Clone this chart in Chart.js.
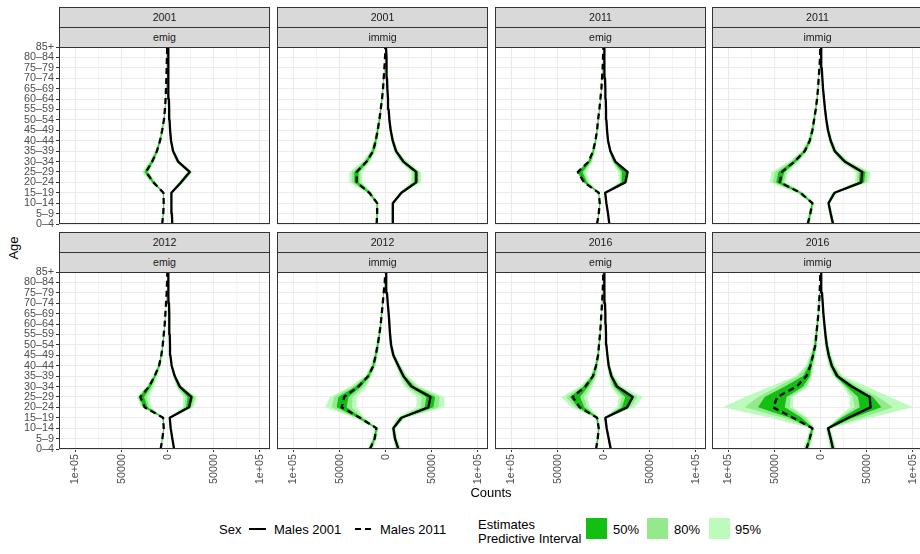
<!DOCTYPE html>
<html>
<head>
<meta charset="utf-8">
<script src="https://cdn.jsdelivr.net/npm/chart.js@4.4.1/dist/chart.umd.min.js"></script>
<style>
  html, body { margin: 0; padding: 0; background: #ffffff; }
  body { position: relative; width: 920px; height: 554px; overflow: hidden;
         font-family: "Liberation Sans", Arial, Helvetica, sans-serif; }
  canvas { position: absolute; }
  .strip { position: absolute; box-sizing: border-box; height: 21px; background: #d9d9d9;
           border: 1px solid #333333; color: #1a1a1a; font-size: 10.6px; line-height: 19px;
           text-align: center; white-space: nowrap; overflow: hidden; }
  .txt { position: absolute; white-space: nowrap; color: #000000; font-size: 13px; line-height: 15px; }
  .key { position: absolute; }
</style>
</head>
<body>
<div id="figure"></div>
<script>
// ---- categories and tick labels ----
const ages = ['0–4','5–9','10–14','15–19','20–24','25–29','30–34','35–39','40–44',
              '45–49','50–54','55–59','60–64','65–69','70–74','75–79','80–84','85+'];
const panelYear = ['2001','2001','2011','2011','2012','2012','2016','2016'];
const panelFlow = ['emig','immig','emig','immig','emig','immig','emig','immig'];
const xTickValues = [-100000, -75000, -50000, -25000, 0, 25000, 50000, 75000, 100000];
const xTickLabels = ['1e+05', '', '50000', '', '0', '', '50000', '', '1e+05'];

// ---- Males 2001 counts by age (drawn to the right of zero), one row per panel ----
const males2001 = [
  [5000,4500,4000,4000,14500,23800,11200,5800,3600,2600,2000,1600,1300,1000,800,600,500,400],
  [7800,7600,7800,17000,33000,33000,19100,11200,7600,5400,4000,3200,2500,1800,1400,1100,700,300],
  [6100,4700,2900,1600,23500,25800,12600,7200,4700,3600,2900,2500,2200,1800,1400,1100,700,400],
  [13400,10800,8500,15000,44000,45000,26000,15200,10800,7900,6100,4700,3600,2500,1800,1100,700,400],
  [6900,5000,3200,2200,23100,25600,13000,7600,4300,2900,2500,2200,1800,1600,1400,1100,700,400],
  [13700,10100,8300,17000,46200,48500,28000,19100,13700,8300,5800,4700,4000,3200,2200,1400,700,400],
  [7600,5400,3200,1800,25300,31400,14400,8300,5400,4000,2900,2500,2200,1800,1400,1100,700,400],
  [13400,10800,8000,30000,54000,53100,33500,18000,12000,8700,6500,5100,4000,2900,2200,1400,700,400]
];
// ---- Males 2011 counts by age (drawn to the left of zero) ----
const males2011 = [
  [6000,4800,4300,4700,15500,23500,16800,11700,8300,6000,4100,3000,2300,1800,1400,1100,800,500],
  [9800,9300,9300,17700,31400,31400,20600,13700,10800,8700,6900,5400,4000,2900,2200,1400,700,400],
  [7200,5400,4300,5400,21300,28000,16200,11600,9000,7200,6100,4700,3600,2500,1800,1100,700,400],
  [14000,11300,9000,22000,44400,41900,28200,17300,11900,9000,7200,5400,4000,2900,2200,1400,700,400],
  [7600,5800,4300,5000,24900,29600,20200,14100,9400,6900,5400,4300,3200,2500,1800,1100,700,400],
  [17000,12000,10000,28000,47700,45000,29600,18800,13400,10800,8700,6900,5400,4300,3200,2200,1100,300],
  [8300,6500,5400,7200,26000,33600,19900,11600,8300,6100,5100,4000,3200,2500,1800,1100,700,400],
  [15500,11900,9000,30000,51500,47000,26000,15500,11200,8300,5800,4700,3600,2500,1800,1100,700,400]
];

// ---- predictive intervals: reach beyond the line (outer, away from zero) and
//      towards zero (inner), in counts, for the 2001 side ----
const pi95Outer2001 = [
  [900,800,800,1000,2800,3500,2500,1500,1000,800,700,600,500,400,400,300,300,300],
  [1500,1400,1400,2500,5500,5500,4000,2500,1800,1400,1100,900,700,600,500,400,300,300],
  [800,700,600,800,2500,2500,1500,1000,800,600,500,500,400,400,300,300,300,300],
  [2000,1800,1600,3000,8000,9000,5000,3000,2200,1800,1500,1200,1000,800,600,500,400,300],
  [1000,800,700,900,5000,6000,3000,1500,1000,800,600,500,500,400,400,300,300,300],
  [3000,2500,2200,5000,17000,15000,9000,4500,3000,2200,1800,1500,1200,1000,800,600,400,300],
  [1500,1200,1000,1500,8000,11000,6000,3000,1800,1300,1000,800,700,600,500,400,300,300],
  [3500,3000,2500,23500,46000,22000,16300,6200,4000,3000,2200,1800,1400,1100,800,600,400,300]
];
const pi95Inner2001 = [
  [900,800,800,1000,2800,3000,2500,1500,1000,800,700,600,500,400,400,300,300,300],
  [1500,1400,1400,2500,6000,6000,4000,2500,1800,1400,1100,900,700,600,500,400,300,300],
  [800,700,600,800,7000,10000,4000,1500,1000,800,600,500,400,400,300,300,300,300],
  [2000,1800,1600,3000,7000,7000,4500,3000,2200,1800,1500,1200,1000,800,600,500,400,300],
  [1000,800,700,900,7000,9000,4000,1800,1000,800,600,500,500,400,400,300,300,300],
  [3000,2500,2200,5000,13000,15000,8000,4000,3000,2200,1800,1500,1200,1000,800,600,400,300],
  [1500,1200,1000,1500,11000,15000,7000,3000,1800,1300,1000,800,700,600,500,400,300,300],
  [3500,3000,2500,11200,22600,21700,9300,4600,3500,2800,2200,1800,1400,1100,800,600,400,300]
];
const pi80Outer2001 = [
  [600,500,500,700,1800,2300,1600,1000,700,500,500,400,300,300,300,200,200,200],
  [1000,900,900,1600,3500,3500,2600,1600,1200,900,700,600,500,400,300,300,200,200],
  [500,400,400,500,1500,1500,1000,700,500,400,300,300,300,300,200,200,200,200],
  [1300,1200,1000,2000,5500,6000,3300,2000,1500,1200,1000,800,600,500,400,300,300,200],
  [600,500,500,600,3200,4000,2000,1000,700,500,400,300,300,300,300,200,200,200],
  [2000,1600,1400,3300,11000,10000,6000,3000,2000,1500,1200,1000,800,700,500,400,300,200],
  [1000,800,700,1000,4000,5000,3500,2000,1200,900,700,500,500,400,300,300,200,200],
  [2300,2000,1700,14000,24400,9000,7000,4000,2600,2000,1500,1200,900,700,500,400,300,200]
];
const pi80Inner2001 = [
  [600,500,500,700,1800,2000,1600,1000,700,500,500,400,300,300,300,200,200,200],
  [1000,900,900,1600,3800,3800,2600,1600,1200,900,700,600,500,400,300,300,200,200],
  [500,400,400,500,5500,8000,3000,1000,700,500,400,300,300,300,200,200,200,200],
  [1300,1200,1000,2000,4800,4800,3000,2000,1500,1200,1000,800,600,500,400,300,300,200],
  [600,500,500,600,5000,6500,2800,1200,700,500,400,300,300,300,300,200,200,200],
  [2000,1600,1400,3300,8000,9500,5000,2600,2000,1500,1200,1000,800,700,500,400,300,200],
  [1000,800,700,1000,8500,11500,5000,2000,1200,900,700,500,500,400,300,300,200,200],
  [2300,2000,1700,9400,17200,18400,7500,3400,2400,1900,1500,1200,900,700,500,400,300,200]
];
const pi50Outer2001 = [
  [300,300,300,400,900,1200,800,500,400,300,300,200,200,200,200,100,100,100],
  [500,500,500,800,1800,1800,1300,800,600,500,400,300,300,200,200,200,100,100],
  [300,200,200,300,600,500,500,400,300,200,200,200,200,200,100,100,100,100],
  [700,600,500,1000,3000,3200,1800,1000,800,600,500,400,300,300,200,200,100,100],
  [300,300,300,300,1500,2000,1000,500,400,300,200,200,200,200,200,100,100,100],
  [1000,800,700,1600,5500,5000,3000,1500,1000,800,600,500,400,300,300,200,100,100],
  [500,400,300,500,1500,1500,1500,1000,600,400,300,300,200,200,200,100,100,100],
  [1200,1000,800,5000,11700,3600,3300,2000,1300,1000,700,600,500,400,300,200,100,100]
];
const pi50Inner2001 = [
  [300,300,300,400,900,1000,800,500,400,300,300,200,200,200,200,100,100,100],
  [500,500,500,800,2000,2000,1300,800,600,500,400,300,300,200,200,200,100,100],
  [300,200,200,300,4000,6000,2000,600,400,300,200,200,200,200,100,100,100,100],
  [700,600,500,1000,2600,2600,1600,1000,800,600,500,400,300,300,200,200,100,100],
  [300,300,300,300,3000,4000,1500,600,400,300,200,200,200,200,200,100,100,100],
  [1000,800,700,1600,4000,4500,2500,1300,1000,800,600,500,400,300,300,200,100,100],
  [500,400,300,500,5500,8000,3000,1000,600,400,300,300,200,200,200,100,100,100],
  [1200,1000,800,7600,11700,12700,5700,2200,1300,1000,700,600,500,400,300,200,100,100]
];

// ---- predictive intervals for the 2011 side ----
const pi95Outer2011 = [
  [1000,900,800,1000,3000,4500,3000,2000,1500,1200,1000,800,700,600,500,400,300,300],
  [1500,1400,1400,3000,8000,8000,4500,3000,2200,1800,1400,1100,900,700,600,400,300,300],
  [900,800,700,1000,2000,1500,1500,1200,1000,800,700,600,500,400,400,300,300,300],
  [2200,2000,1800,4000,11000,11600,6000,3500,2500,2000,1600,1300,1000,800,600,500,400,300],
  [1000,900,800,1000,3500,4300,3000,2000,1500,1200,900,700,600,500,400,300,300,300],
  [3000,2500,2200,6000,18000,15300,9000,3700,2800,2200,1800,1500,1200,1000,800,600,400,300],
  [1500,1300,1200,2000,9000,12500,6000,3000,2000,1500,1200,900,700,600,500,400,300,300],
  [3500,3000,2500,24500,54400,35000,28500,11500,5000,3500,2500,2000,1500,1100,800,600,400,300]
];
const pi95Inner2011 = [
  [1000,900,800,1000,2500,3500,2500,1800,1300,1100,900,700,600,500,400,400,300,300],
  [1500,1400,1400,3000,6000,6000,4000,3000,2200,1800,1400,1100,900,700,600,400,300,300],
  [900,800,700,1000,6000,9000,4000,2500,1500,1200,900,700,600,500,400,300,300,300],
  [2200,2000,1800,4000,6500,6500,5000,3200,2500,2000,1600,1300,1000,800,600,500,400,300],
  [1000,900,800,1000,7000,10000,5000,3000,1800,1300,1000,800,600,500,400,300,300,300],
  [3000,2500,2200,5000,16300,13600,9000,3600,2800,2200,1800,1500,1200,1000,800,600,400,300],
  [1500,1300,1200,2000,11000,16000,8000,4000,2200,1500,1200,900,700,600,500,400,300,300],
  [3500,3000,2500,16300,21500,17000,12300,6100,4000,3000,2200,1800,1400,1100,800,600,400,300]
];
const pi80Outer2011 = [
  [600,600,500,700,2000,3000,2000,1300,1000,800,700,500,500,400,300,300,200,200],
  [1000,900,900,2000,5200,5200,3000,2000,1500,1200,900,700,600,500,400,300,200,200],
  [600,500,500,600,1200,1000,1000,800,600,500,400,400,300,300,300,200,200,200],
  [1500,1300,1200,2600,7500,7800,4000,2300,1700,1300,1000,800,700,500,400,300,300,200],
  [600,600,500,700,2300,2800,2000,1300,1000,800,600,500,400,300,300,200,200,200],
  [2000,1600,1400,4000,10800,11000,6000,2500,1900,1500,1200,1000,800,700,500,400,300,200],
  [1000,900,800,1300,5000,7000,4000,2000,1300,1000,800,600,500,400,300,300,200,200],
  [2300,2000,1700,10800,30800,20900,20200,9000,3300,2300,1700,1300,1000,700,500,400,300,200]
];
const pi80Inner2011 = [
  [600,600,500,700,1700,2300,1700,1200,900,700,600,500,400,300,300,300,200,200],
  [1000,900,900,2000,4000,4000,2700,2000,1500,1200,900,700,600,500,400,300,200,200],
  [600,500,500,600,4500,7000,3000,1800,1100,900,700,500,400,400,300,200,200,200],
  [1500,1300,1200,2600,4500,4500,3300,2100,1700,1300,1000,800,700,500,400,300,300,200],
  [600,600,500,700,5000,7000,3500,2000,1200,900,700,500,400,300,300,200,200,200],
  [2000,1600,1400,3300,10900,9200,6000,2400,1900,1500,1200,1000,800,700,500,400,300,200],
  [1000,900,800,1300,8000,12000,5500,2800,1500,1000,800,600,500,400,300,300,200,200],
  [2300,2000,1700,13400,17900,14500,10500,5000,2700,2000,1500,1200,900,700,500,400,300,200]
];
const pi50Outer2011 = [
  [300,300,300,400,1000,1500,1000,700,500,400,300,300,200,200,200,200,100,100],
  [500,500,500,1000,2600,2600,1500,1000,700,600,500,400,300,200,200,200,100,100],
  [300,300,300,300,500,400,500,400,300,300,200,200,200,200,200,100,100,100],
  [700,600,600,1300,3800,4000,2000,1200,800,600,500,400,300,300,200,200,100,100],
  [300,300,300,400,1100,1300,1000,700,500,400,300,300,200,200,200,100,100,100],
  [1000,800,700,2000,5400,6300,3000,1200,900,700,600,500,400,300,300,200,100,100],
  [500,400,400,700,2000,3000,2000,1000,700,500,400,300,200,200,200,100,100,100],
  [1200,1000,800,3600,16400,13700,13000,3600,1700,1200,900,700,500,400,300,200,100,100]
];
const pi50Inner2011 = [
  [300,300,300,400,900,1200,900,600,500,400,300,300,200,200,200,200,100,100],
  [500,500,500,1000,2000,2000,1300,1000,700,600,500,400,300,200,200,200,100,100],
  [300,300,300,300,3000,5000,2000,1000,600,500,400,300,200,200,200,100,100,100],
  [700,600,600,1300,2300,2300,1700,1100,800,600,500,400,300,300,200,200,100,100],
  [300,300,300,400,3000,4000,2000,1000,600,500,400,300,200,200,200,100,100,100],
  [1000,800,700,1600,5400,4600,3000,1200,900,700,600,500,400,300,300,200,100,100],
  [500,400,400,700,5000,8000,3000,1500,800,500,400,300,200,200,200,100,100,100],
  [1200,1000,800,9400,12500,10000,6900,3900,1400,1000,800,600,500,400,300,200,100,100]
];

// ---- layout of the 2 x 4 facet grid (pixels) ----
const COL_LEFT = [59, 277, 495, 712];
const ROW_TOP = [47, 272];
const PANEL_W = 211, PANEL_H = 177;
const Y_AXIS_W = 59, X_AXIS_H = 40, EDGE_PAD = 8, STRIP_H = 20;
const X_MIN = -117800, X_MAX = 110850;

const FONT = '"Liberation Sans", Arial, Helvetica, sans-serif';
Chart.defaults.font.family = FONT;

const bandLevels = [
  { name: '95%', color: '#bcfbbc', order: 3,
    in01: pi95Inner2001, out01: pi95Outer2001, in11: pi95Inner2011, out11: pi95Outer2011 },
  { name: '80%', color: '#94e98d', order: 2,
    in01: pi80Inner2001, out01: pi80Outer2001, in11: pi80Inner2011, out11: pi80Outer2011 },
  { name: '50%', color: '#13bf13', order: 1,
    in01: pi50Inner2001, out01: pi50Outer2001, in11: pi50Inner2011, out11: pi50Outer2011 }
];

function linePoints(values, sign) {
  return values.map((v, i) => ({ x: sign * v, y: i }));
}
// closed outline of an interval: along the outer bound upwards, back along the inner bound
function bandPoints(values, inner, outer, sign) {
  const pts = values.map((v, i) => ({ x: sign * (v + outer[i]), y: i }));
  for (let i = values.length - 1; i >= 0; i--) {
    pts.push({ x: sign * (values[i] - inner[i]), y: i });
  }
  return pts;
}

// panel border drawn on top of the data, like the facet frame
const panelFrame = {
  id: 'panelFrame',
  afterDraw(chart) {
    const { ctx, chartArea: a } = chart;
    ctx.save();
    ctx.strokeStyle = '#333333';
    ctx.lineWidth = 1;
    ctx.strokeRect(a.left + 0.5, a.top + 0.5, a.width - 1, a.height - 1);
    ctx.restore();
  }
};

const fig = document.getElementById('figure');

for (let p = 0; p < 8; p++) {
  const row = p < 4 ? 0 : 1;
  const col = p % 4;
  const showY = col === 0;
  const showX = row === 1;

  const cLeft = COL_LEFT[col] - (showY ? Y_AXIS_W : 0);
  const cTop = ROW_TOP[row] - EDGE_PAD;
  const cW = PANEL_W + (showY ? Y_AXIS_W : 0);
  const cH = EDGE_PAD + PANEL_H + (showX ? X_AXIS_H : EDGE_PAD);

  const canvas = document.createElement('canvas');
  canvas.width = cW; canvas.height = cH;
  canvas.style.left = cLeft + 'px'; canvas.style.top = cTop + 'px';
  canvas.style.width = cW + 'px'; canvas.style.height = cH + 'px';
  fig.appendChild(canvas);

  const datasets = [
    { label: 'Males 2001', data: linePoints(males2001[p], 1), borderColor: '#000000',
      borderWidth: 2.3, borderJoinStyle: 'round', borderCapStyle: 'round',
      pointRadius: 0, fill: false, order: 0 },
    { label: 'Males 2011', data: linePoints(males2011[p], -1), borderColor: '#000000',
      borderWidth: 2.3, borderDash: [6, 4], borderJoinStyle: 'round', borderCapStyle: 'butt',
      pointRadius: 0, fill: false, order: 0 }
  ];
  for (const b of bandLevels) {
    datasets.push({ label: b.name + ' 2001', data: bandPoints(males2001[p], b.in01[p], b.out01[p], 1),
      backgroundColor: b.color, borderColor: 'rgba(0,0,0,0)', borderWidth: 0,
      pointRadius: 0, fill: 'shape', order: b.order });
    datasets.push({ label: b.name + ' 2011', data: bandPoints(males2011[p], b.in11[p], b.out11[p], -1),
      backgroundColor: b.color, borderColor: 'rgba(0,0,0,0)', borderWidth: 0,
      pointRadius: 0, fill: 'shape', order: b.order });
  }

  new Chart(canvas, {
    type: 'line',
    data: { datasets },
    plugins: [panelFrame],
    options: {
      indexAxis: 'y',
      responsive: false,
      animation: false,
      devicePixelRatio: 1,
      events: [],
      layout: { padding: { top: EDGE_PAD, bottom: showX ? 0 : EDGE_PAD, left: 0, right: 0 } },
      plugins: { legend: { display: false }, tooltip: { enabled: false } },
      scales: {
        x: {
          type: 'linear', position: 'bottom', min: X_MIN, max: X_MAX,
          afterBuildTicks: s => { s.ticks = xTickValues.map(v => ({ value: v })); },
          afterFit: s => { s.height = showX ? X_AXIS_H : 0; s.paddingLeft = 0; s.paddingRight = 0; },
          border: { display: false },
          grid: {
            color: '#ebebeb',
            lineWidth: c => (xTickLabels[c.index] ? 1 : 0.6),
            drawTicks: showX, tickLength: 3, tickWidth: 1,
            tickColor: c => (xTickLabels[c.index] ? '#333333' : 'rgba(0,0,0,0)')
          },
          ticks: {
            display: showX, autoSkip: false, minRotation: 90, maxRotation: 90, padding: 2,
            color: '#4d4d4d', font: { size: 10.8, family: FONT },
            callback: (v, i) => xTickLabels[i]
          }
        },
        y: {
          type: 'linear', position: 'left', min: 0, max: ages.length - 1,
          afterBuildTicks: s => { s.ticks = ages.map((_, i) => ({ value: i })); },
          afterFit: s => { s.width = showY ? Y_AXIS_W : 0; s.paddingTop = 0; s.paddingBottom = 0; },
          border: { display: false },
          grid: { color: '#ebebeb', lineWidth: 1, drawTicks: showY, tickLength: 3, tickWidth: 1, tickColor: '#333333' },
          ticks: {
            display: showY, autoSkip: false, padding: 2,
            color: '#4d4d4d', font: { size: 10.8, family: FONT },
            callback: (v, i) => ages[i]
          }
        }
      }
    }
  });

  // facet strips: year on top, flow underneath
  const y1 = document.createElement('div');
  y1.className = 'strip';
  y1.style.left = COL_LEFT[col] + 'px';
  y1.style.top = (ROW_TOP[row] - 2 * STRIP_H) + 'px';
  y1.style.width = PANEL_W + 'px';
  y1.textContent = panelYear[p];
  const y2 = document.createElement('div');
  y2.className = 'strip';
  y2.style.left = COL_LEFT[col] + 'px';
  y2.style.top = (ROW_TOP[row] - STRIP_H) + 'px';
  y2.style.width = PANEL_W + 'px';
  y2.textContent = panelFlow[p];
  document.body.appendChild(y1);
  document.body.appendChild(y2);
}
</script>

<!-- axis titles -->
<div class="txt" style="left:13px;top:248px;transform:translate(-50%,-50%) rotate(-90deg);">Age</div>
<div class="txt" style="left:491px;top:485px;transform:translateX(-50%);">Counts</div>

<!-- legend: line types -->
<div class="txt" style="left:219px;top:522px;">Sex</div>
<div class="key" style="left:249px;top:528px;width:17px;height:2.3px;background:#000;"></div>
<div class="txt" style="left:274px;top:522px;">Males 2001</div>
<div class="key" style="left:355px;top:528px;width:16px;height:2.3px;background:repeating-linear-gradient(90deg,#000 0 6px,transparent 6px 10px);"></div>
<div class="txt" style="left:380px;top:522px;">Males 2011</div>

<!-- legend: interval fills -->
<div class="txt" style="left:478px;top:518px;line-height:14px;">Estimates<br>Predictive Interval</div>
<div class="key" style="left:586px;top:518px;width:21px;height:21px;background:#13bf13;"></div>
<div class="txt" style="left:613px;top:522px;">50%</div>
<div class="key" style="left:647px;top:518px;width:21px;height:21px;background:#94e98d;"></div>
<div class="txt" style="left:674px;top:522px;">80%</div>
<div class="key" style="left:709px;top:518px;width:21px;height:21px;background:#bcfbbc;"></div>
<div class="txt" style="left:735px;top:522px;">95%</div>
</body>
</html>
